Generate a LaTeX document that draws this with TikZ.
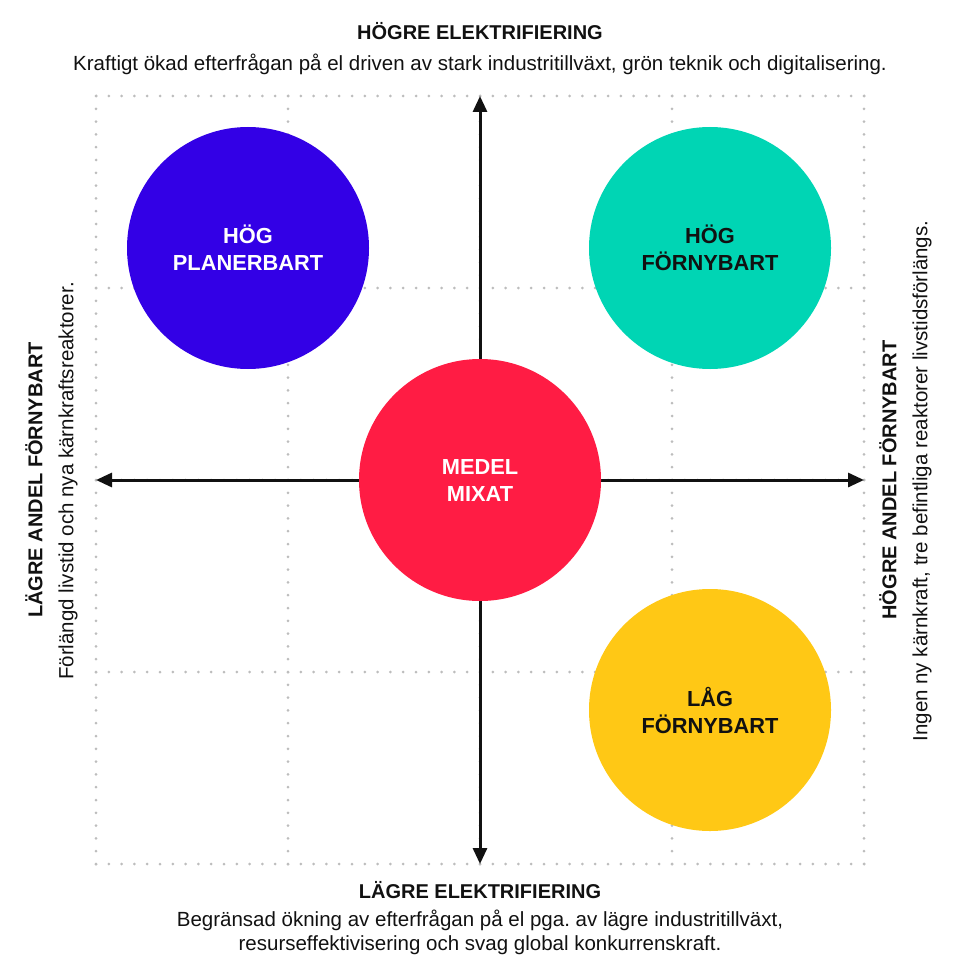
\documentclass[tikz,border=0pt]{standalone}
\usepackage{fontspec}
\setmainfont{Liberation Sans}
\usepackage{xcolor}
\usetikzlibrary{arrows.meta,positioning}
\definecolor{planblue}{HTML}{3300E6}
\definecolor{renteal}{HTML}{00D5B4}
\definecolor{mixred}{HTML}{FF1C44}
\definecolor{lowyellow}{HTML}{FFC815}
\definecolor{dotgray}{HTML}{BDBDBD}
\definecolor{ink}{HTML}{111111}
\frenchspacing

\begin{document}
\begin{tikzpicture}[x=1pt,y=-1pt, c/.style={circle,minimum size=242pt,inner sep=0pt,align=center,font=\fontsize{21.8}{27}\selectfont\bfseries}, a/.style={{Triangle[length=16pt,width=14pt]}-{Triangle[length=16pt,width=14pt]},line width=3pt,ink}, dots/.style={draw=dotgray,line width=3pt,line cap=round,dash pattern=on 0pt off 12.8pt}, hd/.style={font=\fontsize{20}{24}\selectfont\bfseries,text=ink}, sub/.style={font=\fontsize{20.5}{24}\selectfont,align=center,text=ink}]
\useasboundingbox (0,0) rectangle (960,960);
% dotted grid
\foreach \g in {96,288,480,672,864} {
  \draw[dots] (\g,96) -- (\g,864);
  \draw[dots] (96,\g) -- (864,\g);
}
% axes
\coordinate (top) at (480,96);
\coordinate (bottom) at (480,864);
\coordinate (left) at (96,480);
\coordinate (right) at (864,480);
\draw[a] (bottom) -- (top);
\draw[a] (left) -- (right);
% scenarios
\node[c,fill=planblue,text=white] (plan) at (248,248) {HÖG\\PLANERBART};
\node[c,fill=renteal,text=ink] (ren) at (710,248) {HÖG\\FÖRNYBART};
\node[c,fill=mixred,text=white] (mix) at (480,480) {MEDEL\\MIXAT};
\node[c,fill=lowyellow,text=ink] (low) at (710,710) {LÅG\\FÖRNYBART};
% axis labels
\node[hd] (topt) at (480,31) {HÖGRE ELEKTRIFIERING};
\node[sub] (tops) at (480,64) {Kraftigt ökad efterfrågan på el driven av stark industritillväxt, grön teknik och digitalisering.};
\node[hd] (bott) at (480,890) {LÄGRE ELEKTRIFIERING};
\node[sub] (bots) at (480,932) {Begränsad ökning av efterfrågan på el pga. av lägre industritillväxt,\\resurseffektivisering och svag global konkurrenskraft.};
\node[hd,rotate=90] (lefth) at (34,480) {LÄGRE ANDEL FÖRNYBART};
\node[sub,rotate=90] (lefts) at (68,481) {Förlängd livstid och nya kärnkraftsreaktorer.};
\node[hd,rotate=90] (righth) at (888,480) {HÖGRE ANDEL FÖRNYBART};
\node[sub,rotate=90] (rights) at (922,481) {Ingen ny kärnkraft, tre befintliga reaktorer livstidsförlängs.};
\end{tikzpicture}
\end{document}
